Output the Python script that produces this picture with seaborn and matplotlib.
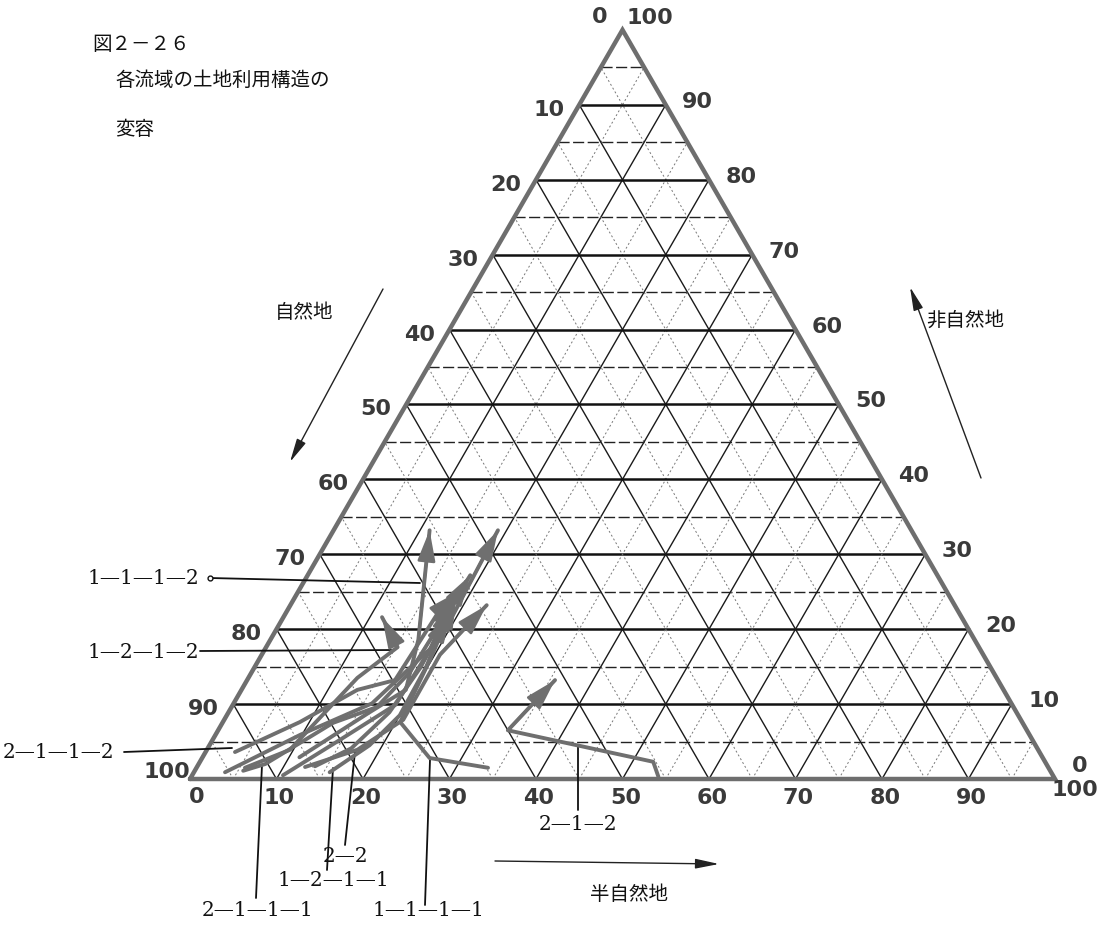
import numpy as np
import pandas as pd
import matplotlib
matplotlib.use("Agg")
import matplotlib.pyplot as plt
import seaborn as sns

sns.set_theme(style="white")
plt.rcParams['font.family'] = ['Noto Sans CJK JP', 'DejaVu Sans']

# Land-use composition of each basin over time (percent).
# semi-natural and non-natural shares; natural land is the remainder.
semi_natural = {
    "1-1-1-2": [11.2, 16.3, 19.0, 17.1, 11.1],
    "1-1-2":   [3.6, 9.8, 16.0, 19.6, 19.0],
    "1-2-2":   [10.5, 14.7, 18.8, 19.1, 18.3],
    "2-1-1":   [12.5, 17.4, 20.7, 20.6, 22.7],
    "1-2-1-2": [5.6, 9.6, 12.6, 15.2, 11.4],
    "2-1-2":   [54.0, 52.4, 33.5, 35.6],
    "1-1-1-1": [33.7, 26.3, 20.5, 19.9, 18.4],
    "2-1-1-1": [5.6, 7.7, 12.8, 16.8, 18.3, 18.8],
    "2-2":     [13.6, 16.6, 18.6, 19.2, 19.0],
    "1-2-1-1": [15.7, 18.5, 20.0, 19.8, 18.7],
    "2-1-1-2": [3.4, 8.9, 13.4, 17.1, 17.6, 18.5],
}
non_natural = {
    "1-1-1-2": [2.9, 8.9, 11.9, 18.6, 33.2],
    "1-1-2":   [0.9, 5.9, 10.1, 18.6, 33.2],
    "1-2-2":   [0.5, 5.2, 9.9, 17.2, 24.6],
    "2-1-1":   [1.6, 3.9, 7.9, 16.6, 23.2],
    "1-2-1-2": [1.5, 3.9, 13.5, 17.6, 21.6],
    "2-1-2":   [0.3, 2.3, 6.5, 13.2],
    "1-1-1-1": [1.5, 2.8, 7.6, 14.6, 23.9],
    "2-1-1-1": [1.1, 2.0, 7.5, 9.6, 14.3, 27.2],
    "2-2":     [1.7, 4.1, 8.9, 14.8, 22.3],
    "1-2-1-1": [0.9, 4.5, 8.5, 15.9, 24.2],
    "2-1-1-2": [3.6, 7.6, 11.9, 13.2, 22.6, 25.0],
}

tick_values = [10, 20, 30, 40, 50, 60, 70, 80, 90]
grid_steps = list(range(5, 100, 5))

H = np.sqrt(3) / 2


def tern(semi, non):
    semi = np.asarray(semi, float)
    non = np.asarray(non, float)
    return semi + non / 2, non * H


def px(x, y):
    # page position -> data position
    return ((x - 190) / 8.65, (779 - y) / 8.65)


rows = []
for name in semi_natural:
    x, y = tern(semi_natural[name], non_natural[name])
    for i, (xi, yi) in enumerate(zip(x, y)):
        rows.append({"basin": name, "step": i, "x": xi, "y": yi})
df = pd.DataFrame(rows)

fig = plt.figure(figsize=(10.99, 9.38), dpi=100)
ax = fig.add_axes([0, 0, 1, 1])
ax.set_xlim(-190 / 8.65, (1099 - 190) / 8.65)
ax.set_ylim(-(938 - 779) / 8.65, 779 / 8.65)
ax.set_aspect("equal")
ax.axis("off")

# grid
for v in grid_steps:
    major = v % 10 == 0
    # constant non-natural (horizontal)
    xs = [v / 2, 100 - v / 2]
    ys = [v * H, v * H]
    if major:
        ax.plot(xs, ys, color="#111111", lw=1.8, zorder=1)
    else:
        ax.plot(xs, ys, color="#222222", lw=1.0, ls=(0, (8, 2.5)), zorder=1)
    # constant semi-natural
    xs1 = [v, v + (100 - v) / 2]
    ys1 = [0, (100 - v) * H]
    # constant natural
    xs2 = [100 - v, (100 - v) / 2]
    ys2 = [0, (100 - v) * H]
    for xx, yy in ((xs1, ys1), (xs2, ys2)):
        if major:
            ax.plot(xx, yy, color="#1a1a1a", lw=1.0, zorder=1)
        else:
            ax.plot(xx, yy, color="#777777", lw=0.7, ls=(0, (2, 2.5)), zorder=1)

# triangle outline
ax.plot([0, 100, 50, 0], [0, 0, 100 * H, 0], color="#6e6e6e", lw=3.2,
        solid_joinstyle="miter", zorder=2)

# trajectories
grey = "#6f6f6f"
sns.lineplot(data=df, x="x", y="y", units="basin", estimator=None, sort=False,
             color=grey, lw=2.8, ax=ax, legend=False, zorder=3)
for name in semi_natural:
    x, y = tern(semi_natural[name], non_natural[name])
    ax.annotate("", xy=(x[-1], y[-1]), xytext=(x[-2], y[-2]),
                arrowprops=dict(arrowstyle="-|>,head_length=1.1,head_width=0.32",
                                color=grey, lw=2.0, shrinkA=0, shrinkB=0,
                                mutation_scale=17), zorder=4)

# tick labels
num_kw = dict(fontsize=16, color="#3a3a3a", fontweight="bold",
              family="DejaVu Sans", ha="center", va="center")
for v in tick_values:
    # natural, along left edge
    ax.annotate(str(v), xy=((100 - v) / 2, (100 - v) * H), xytext=(-30, -5),
                textcoords="offset pixels", **num_kw)
    # non-natural, along right edge
    ax.annotate(str(v), xy=(100 - v / 2, v * H), xytext=(32, 3),
                textcoords="offset pixels", **num_kw)
    # semi-natural, along base
    ax.annotate(str(v), xy=(v, 0), xytext=(3, -19),
                textcoords="offset pixels", **num_kw)

for s, pos in [("0", (600, 17)), ("100", (650, 18)), ("100", (167, 772)),
               ("0", (197, 797)), ("0", (1080, 766)), ("100", (1075, 790))]:
    ax.text(*px(*pos), s, **num_kw)

# titles
jp_kw = dict(fontsize=14, color="#111111", family=["Noto Sans CJK JP", "DejaVu Sans"],
             va="center", ha="left")
ax.text(*px(92, 45), "図２－２６", **jp_kw)
ax.text(*px(115, 80), "各流域の土地利用構造の", **jp_kw)
ax.text(*px(115, 130), "変容", **jp_kw)

# component names and direction arrows
ax.text(*px(275, 313), "自然地", **jp_kw)
ax.text(*px(926, 320), "非自然地", **jp_kw)
ax.text(*px(590, 895), "半自然地", **jp_kw)
arr_kw = dict(arrowstyle="-|>,head_length=1.2,head_width=0.25", color="#222222",
              lw=1.0, shrinkA=0, shrinkB=0, mutation_scale=12)
ax.annotate("", xy=px(290, 462), xytext=px(383, 289), arrowprops=arr_kw)
ax.annotate("", xy=px(910, 287), xytext=px(981, 478), arrowprops=arr_kw)
ax.annotate("", xy=px(719, 864), xytext=px(495, 861), arrowprops=arr_kw)

# basin labels with leader lines
lab_kw = dict(fontsize=14.5, color="#111111", family="DejaVu Serif", va="center")
side_labels = [
    ("1—1—1—2", (88, 578), [(210, 578), (420, 583)], True),
    ("1—2—1—2", (88, 652), [(200, 651), (395, 650)], False),
    ("2—1—1—2", (3, 752), [(124, 752), (232, 748)], False),
]
for text, tpos, line, circ in side_labels:
    ax.text(*px(*tpos), text, ha="left", **lab_kw)
    lx, ly = zip(*[px(*p) for p in line])
    ax.plot(lx, ly, color="#111111", lw=1.3, zorder=2)
    if circ:
        ax.plot(lx[0], ly[0], marker="o", ms=3.5, mfc="white", mec="#111111",
                mew=1, zorder=3)

bottom_labels = [
    ("2—1—1—1", (258, 910), [(256, 898), (262, 765)]),
    ("1—2—1—1", (333, 880), [(327, 870), (333, 768)]),
    ("2—2", (345, 856), [(345, 845), (355, 752)]),
    ("1—1—1—1", (428, 910), [(425, 905), (430, 760)]),
    ("2—1—2", (578, 824), [(578, 810), (578, 746)]),
]
for text, tpos, line in bottom_labels:
    ax.text(*px(*tpos), text, ha="center", **lab_kw)
    lx, ly = zip(*[px(*p) for p in line])
    ax.plot(lx, ly, color="#111111", lw=1.3, zorder=2)

fig.savefig("out.png", dpi=100, facecolor="white")
